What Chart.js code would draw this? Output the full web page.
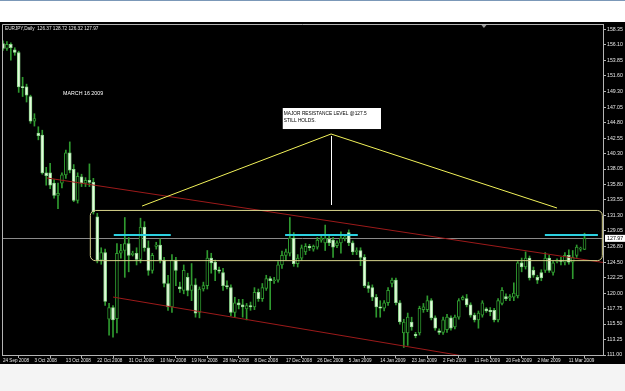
<!DOCTYPE html>
<html>
<head>
<meta charset="utf-8">
<script src="https://cdn.jsdelivr.net/npm/chart.js@4.4.0/dist/chart.umd.min.js"></script>
<style>
  html, body { margin: 0; padding: 0; background: #ffffff; }
  canvas { display: block; }
</style>
</head>
<body>
<canvas id="eurjpy" width="625" height="391"></canvas>
<script>
// EURJPY daily candles, 24 Sep 2008 .. 16 Mar 2009 (one bar per trading day, Sunday bars included)
const opens = [
  156.3, 155.6, 156.2, 155.4, 155.0, 150.0, 150.0, 148.6, 145.0, 143.3,
  143.0, 137.5, 137.5, 136.0, 134.2, 136.0, 137.2, 140.4, 138.0, 133.5,
  136.9, 136.0, 136.4, 136.1, 131.1, 124.8, 125.9, 116.2, 117.9, 116.3,
  125.8, 126.2, 127.2, 125.6, 125.8, 124.9, 129.6, 126.6, 123.3, 126.8,
  127.0, 124.8, 121.4, 118.0, 124.8, 120.9, 120.4, 122.3, 120.4, 121.2,
  117.2, 120.6, 121.1, 125.1, 124.5, 123.4, 123.0, 121.1, 120.8, 117.2,
  118.6, 118.3, 117.7, 118.2, 118.0, 120.1, 119.2, 120.7, 122.1, 121.8,
  121.9, 124.1, 125.5, 125.8, 128.0, 124.3, 125.1, 126.0, 126.8, 126.4,
  126.7, 127.7, 127.3, 127.9, 127.7, 126.9, 127.3, 128.0, 128.8, 127.3,
  126.0, 126.2, 125.2, 121.1, 120.8, 119.4, 118.0, 117.8, 118.6, 121.4,
  121.9, 118.6, 114.2, 114.2, 115.8, 114.0, 114.2, 117.6, 117.6, 118.9,
  116.4, 114.5, 114.3, 114.7, 116.4, 115.1, 116.5, 119.1, 119.2, 118.3,
  116.8, 116.1, 116.8, 117.7, 117.5, 117.5, 116.1, 118.5, 119.5, 119.3,
  119.4, 119.6, 124.4, 123.8, 125.1, 123.3, 122.3, 123.0, 123.3, 125.1,
  123.0, 124.6, 124.8, 124.5, 125.5, 124.5, 125.5, 126.4, 126.37
];
const highs = [
  156.7, 156.6, 156.4, 155.7, 155.2, 151.4, 150.4, 148.8, 146.1, 144.2,
  143.7, 138.3, 138.9, 136.5, 136.0, 137.5, 140.8, 142.0, 138.7, 137.5,
  137.3, 136.8, 138.8, 136.7, 131.6, 126.6, 126.4, 118.5, 118.2, 127.2,
  127.1, 131.0, 128.1, 126.1, 126.6, 130.9, 130.4, 127.6, 125.8, 127.4,
  127.9, 125.2, 122.6, 125.6, 125.2, 121.6, 124.1, 122.9, 124.3, 122.1,
  120.9, 121.6, 126.2, 125.8, 124.8, 123.8, 123.6, 121.8, 121.2, 119.4,
  119.1, 119.1, 118.5, 118.7, 120.8, 120.6, 121.4, 122.6, 122.4, 122.3,
  124.6, 126.1, 126.4, 131.0, 128.8, 125.6, 127.0, 127.2, 127.1, 127.0,
  128.1, 128.4, 129.9, 128.4, 128.1, 127.6, 128.9, 128.5, 129.2, 127.6,
  126.6, 126.6, 125.6, 121.6, 121.2, 119.8, 118.9, 118.9, 120.8, 122.2,
  122.2, 118.9, 116.2, 117.1, 116.5, 114.3, 118.1, 118.5, 119.6, 119.2,
  116.7, 114.8, 116.5, 116.9, 116.7, 116.8, 119.2, 119.6, 119.8, 118.6,
  117.1, 117.4, 118.9, 117.9, 117.9, 117.8, 119.2, 120.8, 119.9, 119.8,
  121.5, 124.6, 125.1, 126.0, 125.4, 123.8, 122.6, 123.4, 125.9, 125.5,
  124.7, 125.0, 125.2, 125.9, 126.3, 126.2, 127.0, 126.7, 128.72
];
const lows = [
  155.3, 155.3, 153.9, 154.6, 149.2, 148.6, 147.8, 144.7, 144.3, 142.3,
  137.3, 135.7, 135.2, 133.8, 132.3, 135.3, 136.7, 137.5, 133.3, 133.1,
  135.5, 135.5, 135.5, 131.5, 124.4, 124.2, 118.2, 113.9, 113.6, 114.2,
  125.1, 122.3, 123.1, 125.4, 124.1, 124.4, 126.1, 122.6, 122.9, 126.4,
  124.4, 120.9, 117.5, 117.2, 121.1, 120.1, 119.9, 119.6, 118.9, 116.5,
  116.4, 120.3, 120.6, 122.9, 121.8, 122.9, 120.4, 120.6, 116.7, 116.5,
  117.7, 116.5, 116.1, 117.5, 117.6, 118.8, 118.8, 120.4, 117.6, 121.4,
  121.6, 123.6, 124.8, 125.4, 123.9, 123.8, 124.8, 125.6, 126.2, 126.1,
  126.4, 127.4, 126.2, 126.9, 125.2, 126.6, 125.8, 127.6, 126.9, 125.6,
  125.6, 124.0, 120.8, 120.1, 118.9, 116.5, 116.5, 117.4, 118.2, 120.9,
  118.3, 115.5, 112.1, 112.4, 114.6, 113.5, 113.9, 117.2, 117.3, 116.1,
  114.6, 114.0, 114.0, 114.3, 114.6, 114.8, 116.2, 119.0, 118.0, 116.5,
  115.8, 114.9, 116.5, 117.2, 116.7, 115.8, 115.8, 118.3, 118.9, 118.9,
  118.9, 119.3, 123.1, 123.5, 121.9, 122.3, 121.4, 121.8, 123.0, 123.0,
  122.6, 124.4, 124.1, 124.1, 124.2, 122.1, 125.2, 126.1, 126.32
];
const closes = [
  155.6, 156.2, 155.7, 155.0, 150.0, 149.9, 148.8, 145.0, 145.4, 142.9,
  137.5, 137.1, 135.7, 134.2, 134.5, 137.2, 140.4, 137.9, 133.5, 137.0,
  136.0, 136.4, 136.1, 131.8, 124.8, 125.9, 118.8, 117.9, 116.1, 125.8,
  126.2, 127.2, 125.5, 125.8, 124.9, 129.6, 126.6, 123.3, 125.5, 127.0,
  124.8, 121.4, 118.0, 124.8, 123.3, 120.6, 123.3, 120.4, 121.2, 117.1,
  120.6, 121.1, 125.1, 124.4, 123.4, 123.2, 121.1, 120.9, 117.2, 118.6,
  118.3, 118.0, 118.2, 118.0, 120.1, 119.2, 120.8, 122.1, 121.8, 121.9,
  124.1, 125.5, 126.0, 128.0, 124.3, 125.1, 126.6, 126.8, 126.6, 126.8,
  127.7, 128.0, 128.0, 127.3, 126.7, 127.3, 128.0, 128.2, 127.3, 126.0,
  126.2, 125.2, 121.1, 120.7, 119.4, 118.0, 117.8, 118.6, 120.4, 121.9,
  118.6, 115.8, 115.8, 116.5, 115.1, 113.8, 117.8, 118.0, 118.9, 116.4,
  114.9, 114.3, 116.1, 116.5, 114.9, 116.5, 118.9, 119.4, 118.3, 116.8,
  116.1, 117.1, 118.6, 117.4, 117.3, 116.1, 118.9, 120.4, 119.2, 119.5,
  120.0, 124.4, 123.8, 125.1, 122.2, 122.6, 121.9, 122.2, 125.1, 123.3,
  124.4, 124.8, 124.6, 125.5, 124.5, 125.2, 126.7, 126.4, 127.97
];

// time axis labels (every 8th bar) and price axis labels
const xTickBars = [0, 8, 16, 24, 32, 40, 48, 56, 64, 72, 80, 88, 96, 104, 112, 120, 128, 136, 144];
const xTickLabels = [
  '24 Sep 2008', '3 Oct 2008', '13 Oct 2008', '22 Oct 2008', '31 Oct 2008', '10 Nov 2008',
  '19 Nov 2008', '28 Nov 2008', '8 Dec 2008', '17 Dec 2008', '26 Dec 2008', '5 Jan 2009',
  '14 Jan 2009', '23 Jan 2009', '2 Feb 2009', '11 Feb 2009', '20 Feb 2009', '2 Mar 2009', '11 Mar 2009'
];
const yTickLabels = [
  '158.35', '156.10', '153.85', '151.60', '149.30', '147.05', '144.80', '142.55', '140.30', '138.05', '135.80',
  '133.55', '131.30', '129.05', '126.80', '124.50', '122.25', '120.00', '117.75', '115.50', '113.25', '111.00'
];

// hand-drawn analysis objects, in (bar, price)
const upperTrend = [[11.2, 136.75], [152.7, 124.46]];
const lowerTrend = [[28.0, 119.43], [120.0, 110.58]];
const zoneBars = [22.1, 152.4];
const zonePrices = [132.1, 124.8];
const resistancePrice = 128.45;
const resistanceSpans = [[28.2, 42.7], [71.8, 90.3], [137.9, 151.4]];
const roofPoints = [[35.4, 132.67], [83.5, 143.15], [141.0, 132.38]];
const pointerLine = [[83.5, 142.86], [83.5, 132.82]];
const noteBars = [71.2, 96.2];
const notePrices = [146.93, 143.87];
const noteLines = ['MAJOR RESISTANCE LEVEL @127.5', 'STILL HOLDS.'];
const dateNote = { bar: 15.3, price: 149.1, text: 'MARCH 16 2009' };
const header = 'EURJPY,Daily  126.37 128.72 126.32 127.97';

const FONT = '"Liberation Sans", Arial, sans-serif';
const bodies = opens.map((o, i) => ({ x: i, y: [o, closes[i]] }));
const wicks = highs.map((h, i) => ({ x: i, y: [lows[i], h] }));
const isUp = opens.map((o, i) => closes[i] >= o);

const mtPlugin = {
  id: 'mt4',
  beforeDraw(chart) {
    const c = chart.ctx;
    c.save();
    c.fillStyle = '#ffffff';
    c.fillRect(0, 0, chart.width, chart.height);
    c.fillStyle = '#7b98b8';
    c.fillRect(0, 0, chart.width, 1);
    c.fillStyle = '#000000';
    c.fillRect(0, 22, chart.width, 342);
    c.fillStyle = '#f4f4f4';
    c.fillRect(0, 364, chart.width, chart.height - 364);
    c.restore();
  },
  beforeDatasetsDraw(chart) {
    const c = chart.ctx, a = chart.chartArea, y = chart.scales.y;
    c.save();
    // bid line
    const py = Math.round(y.getPixelForValue(closes[closes.length - 1])) + 0.5;
    c.strokeStyle = '#8a8a8a';
    c.lineWidth = 1;
    c.beginPath(); c.moveTo(a.left, py); c.lineTo(a.right, py); c.stroke();
    c.restore();
  },
  afterDatasetsDraw(chart) {
    const c = chart.ctx, a = chart.chartArea, x = chart.scales.x, y = chart.scales.y;
    const X = v => x.getPixelForValue(v), Y = v => y.getPixelForValue(v);
    c.save();
    c.beginPath(); c.rect(a.left, a.top, a.right - a.left, a.bottom - a.top); c.clip();

    // trend channel
    c.strokeStyle = '#9c1a1a';
    c.lineWidth = 1;
    [upperTrend, lowerTrend].forEach(l => {
      c.beginPath(); c.moveTo(X(l[0][0]), Y(l[0][1])); c.lineTo(X(l[1][0]), Y(l[1][1])); c.stroke();
    });

    // resistance zone (rounded box)
    const bx0 = X(zoneBars[0]), bx1 = X(zoneBars[1]);
    const by0 = Y(zonePrices[0]), by1 = Y(zonePrices[1]);
    c.strokeStyle = '#d8d48c';
    c.lineWidth = 1;
    c.beginPath();
    c.roundRect(bx0 + 0.5, by0 + 0.5, bx1 - bx0, by1 - by0, 5);
    c.stroke();

    // resistance marks
    c.strokeStyle = '#2cd0e0';
    c.lineWidth = 2;
    resistanceSpans.forEach(s => {
      c.beginPath(); c.moveTo(X(s[0]), Y(resistancePrice)); c.lineTo(X(s[1]), Y(resistancePrice)); c.stroke();
    });

    // roof lines + pointer
    c.strokeStyle = '#f2f25a';
    c.lineWidth = 1;
    c.beginPath();
    roofPoints.forEach((p, i) => i ? c.lineTo(X(p[0]), Y(p[1])) : c.moveTo(X(p[0]), Y(p[1])));
    c.stroke();
    c.strokeStyle = '#ffffff';
    c.beginPath();
    c.moveTo(Math.round(X(pointerLine[0][0])) + 0.5, Y(pointerLine[0][1]));
    c.lineTo(Math.round(X(pointerLine[1][0])) + 0.5, Y(pointerLine[1][1]));
    c.stroke();

    // note box
    const nx0 = X(noteBars[0]), nx1 = X(noteBars[1]);
    const ny0 = Y(notePrices[0]), ny1 = Y(notePrices[1]);
    c.fillStyle = '#ffffff';
    c.fillRect(nx0, ny0, nx1 - nx0, ny1 - ny0);
    c.fillStyle = '#000000';
    c.font = '4.8px ' + FONT;
    c.textBaseline = 'top';
    c.textAlign = 'left';
    noteLines.forEach((t, i) => c.fillText(t, nx0 + 1, ny0 + 3 + i * 7));

    c.fillStyle = '#ffffff';
    c.font = '5.3px ' + FONT;
    c.textBaseline = 'middle';
    c.fillText(dateNote.text, X(dateNote.bar), Y(dateNote.price));
    c.restore();
  },
  afterDraw(chart) {
    const c = chart.ctx, a = chart.chartArea, x = chart.scales.x, y = chart.scales.y;
    c.save();
    // frame left + top
    c.strokeStyle = '#b4b4b4';
    c.lineWidth = 1;
    c.beginPath();
    c.moveTo(a.left + 0.5, a.bottom); c.lineTo(a.left + 0.5, a.top + 0.5); c.lineTo(a.right, a.top + 0.5);
    c.stroke();

    // header
    c.fillStyle = '#e6e6e6';
    c.font = '4.7px ' + FONT;
    c.textBaseline = 'middle';
    c.textAlign = 'left';
    c.fillText(header, a.left + 3, a.top + 5);

    // chart-shift marker
    const sx = x.getPixelForValue(122.4);
    c.fillStyle = '#9a9a9a';
    c.beginPath(); c.moveTo(sx - 2.5, a.top + 1); c.lineTo(sx + 2.5, a.top + 1); c.lineTo(sx, a.top + 4); c.closePath(); c.fill();

    // current price tag on the axis
    const py = y.getPixelForValue(closes[closes.length - 1]);
    c.fillStyle = '#ffffff';
    c.fillRect(a.right + 2, py - 3.5, 20, 7);
    c.fillStyle = '#000000';
    c.font = '5.3px ' + FONT;
    c.fillText(closes[closes.length - 1].toFixed(2), a.right + 4, py + 0.3);
    c.restore();
  }
};

new Chart(document.getElementById('eurjpy'), {
  type: 'bar',
  data: {
    datasets: [
      {
        data: bodies,
        order: 0,
        grouped: false,
        barThickness: 3,
        minBarLength: 1,
        borderSkipped: false,
        borderWidth: 1,
        backgroundColor: isUp.map(u => u ? '#000000' : '#e4fbdc'),
        borderColor: isUp.map(u => u ? '#2f9a2f' : '#8fd68f')
      },
      {
        data: wicks,
        order: 1,
        grouped: false,
        barThickness: 1,
        borderWidth: 0,
        backgroundColor: '#2f9a2f'
      }
    ]
  },
  options: {
    responsive: false,
    animation: false,
    devicePixelRatio: 1,
    layout: { padding: { left: 2, top: 24, right: 0, bottom: 27 } },
    plugins: { legend: { display: false }, tooltip: { enabled: false } },
    scales: {
      x: {
        type: 'linear',
        min: -0.25,
        max: 152.7,
        offset: false,
        afterBuildTicks: s => { s.ticks = xTickBars.map(v => ({ value: v })); },
        afterFit: s => { s.height = 9; },
        grid: { drawOnChartArea: false, tickLength: 3, color: '#b4b4b4' },
        border: { color: '#b4b4b4' },
        ticks: {
          autoSkip: false, maxRotation: 0, align: 'start', padding: 0,
          color: '#e6e6e6', font: { size: 4.6, family: FONT },
          callback: (v, i) => xTickLabels[i]
        }
      },
      y: {
        position: 'right',
        min: 111.0,
        max: 159.15,
        afterBuildTicks: s => { s.ticks = yTickLabels.map(t => ({ value: parseFloat(t) })); },
        afterFit: s => { s.width = 22; },
        grid: { drawOnChartArea: false, tickLength: 3, color: '#b4b4b4' },
        border: { color: '#b4b4b4' },
        ticks: {
          autoSkip: false, padding: 1,
          color: '#e6e6e6', font: { size: 5.2, family: FONT },
          callback: (v, i) => yTickLabels[i]
        }
      }
    }
  },
  plugins: [mtPlugin]
});
</script>
</body>
</html>
